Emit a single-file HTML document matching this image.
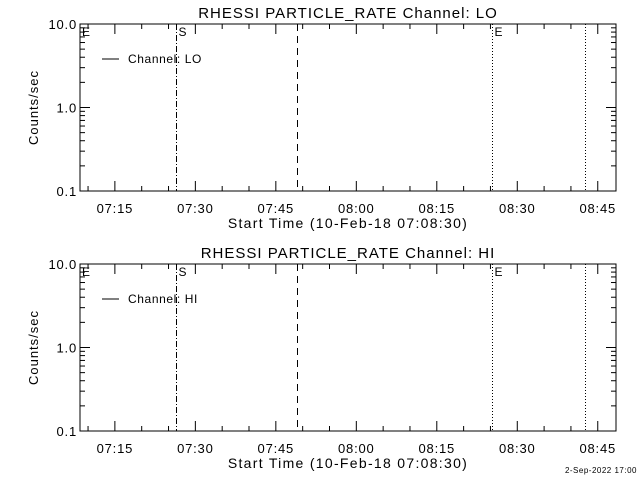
<!DOCTYPE html>
<html><head><meta charset="utf-8"><style>
html,body{margin:0;padding:0;background:#fff;}
svg text{font-family:"Liberation Sans",sans-serif;fill:#000;}
</style></head><body>
<svg id="chart" width="640" height="480" xmlns="http://www.w3.org/2000/svg">
<rect width="640" height="480" fill="#fff"/>
<text x="637" y="473" font-size="8" text-anchor="end" letter-spacing="0.5">2-Sep-2022 17:00</text>
</svg>
<script>
const panelChannels = ["LO", "HI"];
const panelTops = [24, 264];
const yTickValues = [0.1, 1, 10];
const yTickLabels = ["0.1", "1.0", "10.0"];
const xTickMinutes = [15, 30, 45, 60, 75, 90, 105]; // minutes after 07:00
const xTickLabels = ["07:15", "07:30", "07:45", "08:00", "08:15", "08:30", "08:45"];
const startMin = 8.5, endMin = 108.4;
const markerMinutes = [26.4, 49.0, 85.3, 102.6];
const markerStyles = ["dashdot", "dashed", "dotted", "dotted"];
const markerLabels = ["S", "", "E", ""];

const svg = document.getElementById('chart');
const NS = 'http://www.w3.org/2000/svg';
const L = 80, R = 616, H = 167;
function mk(tag, attrs, parent) {
  const e = document.createElementNS(NS, tag);
  for (const k in attrs) e.setAttribute(k, attrs[k]);
  (parent || svg).appendChild(e);
  return e;
}
function xs(m) { return L + (m - startMin) / (endMin - startMin) * (R - L); }
const dashMap = { dashdot: "6,2,1,2", dashed: "7,5", dotted: "1,2" };

panelChannels.forEach((ch, pi) => {
  const T = panelTops[pi], B = T + H;
  function ys(v) { return B - (Math.log10(v) + 1) / 2 * H; }
  const g = mk('g', {});
  
  
  const frame = mk('rect', { x: L, y: T, width: R - L, height: H, fill: 'none', stroke: '#000', 'stroke-width': 1 }, g);
  
  
  const title = mk('text', { x: 348, y: T - 6, 'font-size': 15, 'text-anchor': 'middle', 'letter-spacing': 1 }, g);
  title.textContent = 'RHESSI PARTICLE_RATE Channel: ' + ch;
  
  
  yTickValues.forEach((v, i) => {
    const y = ys(v);
    mk('line', { x1: L, x2: L + 10, y1: y, y2: y, stroke: '#000' }, g);
    mk('line', { x1: R, x2: R - 10, y1: y, y2: y, stroke: '#000' }, g);
    const t = mk('text', { x: L - 3, y: y + 5, 'font-size': 13, 'text-anchor': 'end', 'letter-spacing': 0.8 }, g);
    t.textContent = yTickLabels[i];
    
    
    if (i < yTickValues.length - 1) {
      for (let k = 2; k <= 9; k++) {
        const yy = ys(v * k);
        mk('line', { x1: L, x2: L + 5, y1: yy, y2: yy, stroke: '#000' }, g);
        mk('line', { x1: R, x2: R - 5, y1: yy, y2: yy, stroke: '#000' }, g);
      }
    }
  });
  const yt = mk('text', { x: 0, y: 0, 'font-size': 13, 'text-anchor': 'middle', 'letter-spacing': 1, transform: `translate(38,${(T + B) / 2}) rotate(-90)` }, g);
  yt.textContent = 'Counts/sec';
  
  
  for (let m = 10; m <= endMin; m += 5) {
    const x = xs(m), major = m % 15 === 0;
    const len = major ? 10 : 5;
    mk('line', { x1: x, x2: x, y1: B, y2: B - len, stroke: '#000' }, g);
    mk('line', { x1: x, x2: x, y1: T, y2: T + len, stroke: '#000' }, g);
  }
  xTickMinutes.forEach((m, i) => {
    const t = mk('text', { x: xs(m), y: B + 22, 'font-size': 13, 'text-anchor': 'middle', 'letter-spacing': 0.8 }, g);
    t.textContent = xTickLabels[i];
    
    
  });
  const xt = mk('text', { x: 348, y: B + 37, 'font-size': 14, 'text-anchor': 'middle', 'letter-spacing': 1.3 }, g);
  xt.textContent = 'Start Time (10-Feb-18 07:08:30)';
  
  
  markerMinutes.forEach((m, i) => {
    const x = Math.round(xs(m)) + 0.5;
    const ln = mk('line', { x1: x, x2: x, y1: T, y2: B, stroke: '#000', 'stroke-dasharray': dashMap[markerStyles[i]] }, g);
    
    
    if (markerLabels[i]) {
      const t = mk('text', { x: x + 2, y: T + 12, 'font-size': 12 }, g);
      t.textContent = markerLabels[i];
      
      
    }
  });
  const e = mk('text', { x: L + 2, y: T + 12, 'font-size': 12 }, g);
  e.textContent = 'E';
  
  
  mk('line', { x1: 102, x2: 119, y1: T + 35, y2: T + 35, stroke: '#000' }, g);
  const lt = mk('text', { x: 128, y: T + 39, 'font-size': 12, 'letter-spacing': 0.6 }, g);
  lt.textContent = 'Channel: ' + ch;
  
  
});
</script>
</body></html>
